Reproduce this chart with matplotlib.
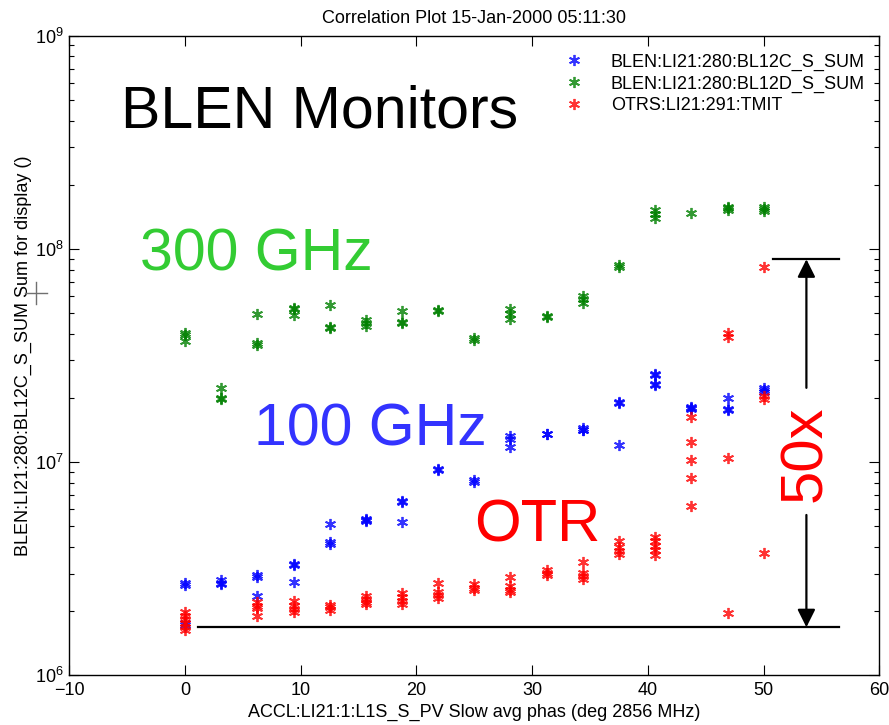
import matplotlib
matplotlib.use("Agg")
import matplotlib.pyplot as plt
from matplotlib.lines import Line2D

# ---------------- data ----------------
blen_c_x = [0, 0, 0, 0,
            3.1, 3.1, 3.1,
            6.25, 6.25, 6.25,
            9.4, 9.4, 9.4,
            12.5, 12.5, 12.5,
            15.6, 15.6, 15.6,
            18.75, 18.75, 18.75,
            21.9, 21.9,
            25, 25,
            28.1, 28.1, 28.1,
            31.25, 31.25,
            34.4, 34.4, 34.4,
            37.5, 37.5, 37.5,
            40.6, 40.6, 40.6, 40.6,
            43.75, 43.75, 43.75,
            46.9, 46.9, 46.9,
            50, 50, 50]
blen_c_y = [2.70e6, 2.65e6, 1.75e6, 1.72e6,
            2.80e6, 2.72e6, 2.68e6,
            2.95e6, 2.90e6, 2.35e6,
            3.33e6, 3.28e6, 2.75e6,
            5.10e6, 4.20e6, 4.15e6,
            5.40e6, 5.30e6, 5.35e6,
            6.60e6, 6.50e6, 5.25e6,
            9.25e6, 9.20e6,
            8.20e6, 8.10e6,
            1.33e7, 1.29e7, 1.18e7,
            1.36e7, 1.35e7,
            1.44e7, 1.42e7, 1.41e7,
            1.92e7, 1.90e7, 1.20e7,
            2.60e7, 2.55e7, 2.33e7, 2.30e7,
            1.82e7, 1.80e7, 1.78e7,
            1.99e7, 1.78e7, 1.76e7,
            2.22e7, 2.17e7, 2.14e7]

blen_d_x = [0, 0, 0,
            3.1, 3.1, 3.1,
            6.25, 6.25, 6.25,
            9.4, 9.4, 9.4,
            12.5, 12.5, 12.5,
            15.6, 15.6, 15.6,
            18.75, 18.75, 18.75,
            21.9, 21.9,
            25, 25,
            28.1, 28.1, 28.1,
            31.25, 31.25,
            34.4, 34.4, 34.4,
            37.5, 37.5,
            40.6, 40.6, 40.6,
            43.75,
            46.9, 46.9, 46.9,
            50, 50, 50]
blen_d_y = [4.05e7, 3.95e7, 3.70e7,
            2.22e7, 2.00e7, 1.97e7,
            4.95e7, 3.60e7, 3.55e7,
            5.30e7, 5.20e7, 4.90e7,
            5.45e7, 4.30e7, 4.25e7,
            4.65e7, 4.50e7, 4.35e7,
            5.12e7, 4.55e7, 4.50e7,
            5.15e7, 5.10e7,
            3.80e7, 3.75e7,
            5.20e7, 4.95e7, 4.68e7,
            4.85e7, 4.78e7,
            6.00e7, 5.85e7, 5.60e7,
            8.40e7, 8.25e7,
            1.52e8, 1.45e8, 1.40e8,
            1.47e8,
            1.58e8, 1.55e8, 1.52e8,
            1.57e8, 1.54e8, 1.50e8]

otr_x = [0, 0, 0, 0, 0, 0,
         6.25, 6.25, 6.25, 6.25,
         9.4, 9.4, 9.4, 9.4,
         12.5, 12.5, 12.5,
         15.6, 15.6, 15.6, 15.6,
         18.75, 18.75, 18.75, 18.75,
         21.9, 21.9, 21.9, 21.9,
         25, 25, 25,
         28.1, 28.1, 28.1, 28.1,
         31.25, 31.25, 31.25,
         34.4, 34.4, 34.4, 34.4,
         37.5, 37.5, 37.5, 37.5,
         40.6, 40.6, 40.6, 40.6, 40.6,
         43.75, 43.75, 43.75, 43.75, 43.75,
         46.9, 46.9, 46.9, 46.9,
         50, 50, 50, 50]
otr_y = [1.98e6, 1.90e6, 1.83e6, 1.75e6, 1.68e6, 1.63e6,
         2.20e6, 2.12e6, 2.06e6, 1.90e6,
         2.22e6, 2.12e6, 2.05e6, 1.99e6,
         2.14e6, 2.08e6, 2.03e6,
         2.36e6, 2.28e6, 2.20e6, 2.17e6,
         2.42e6, 2.32e6, 2.22e6, 2.15e6,
         2.72e6, 2.45e6, 2.38e6, 2.30e6,
         2.68e6, 2.58e6, 2.52e6,
         2.88e6, 2.62e6, 2.52e6, 2.45e6,
         3.12e6, 3.02e6, 2.95e6,
         3.40e6, 3.02e6, 2.92e6, 2.82e6,
         4.25e6, 3.98e6, 3.82e6, 3.70e6,
         4.45e6, 4.25e6, 4.05e6, 3.85e6, 3.65e6,
         1.62e7, 1.24e7, 1.02e7, 8.40e6, 6.25e6,
         4.05e7, 3.85e7, 1.04e7, 1.95e6,
         8.25e7, 2.05e7, 1.98e7, 3.75e6]

series_labels = ["BLEN:LI21:280:BL12C_S_SUM",
                 "BLEN:LI21:280:BL12D_S_SUM",
                 "OTRS:LI21:291:TMIT"]
series_colors = ["#0000ff", "#008000", "#ff0000"]

title_text = "Correlation Plot 15-Jan-2000 05:11:30"
xlabel_text = "ACCL:LI21:1:L1S_S_PV Slow avg phas (deg 2856 MHz)"
ylabel_text = "BLEN:LI21:280:BL12C_S_SUM Sum for display ()"

# ---------------- style ----------------
plt.rcParams["font.family"] = ["Liberation Sans", "DejaVu Sans"]
plt.rcParams["mathtext.fontset"] = "custom"
plt.rcParams["mathtext.rm"] = "Liberation Sans"
plt.rcParams["axes.unicode_minus"] = True

FS = 13

fig = plt.figure(figsize=(8.89, 7.25), dpi=100)
W, H = 889, 725
ax = fig.add_axes([69.3 / W, 1 - 675.3 / H, (879.3 - 69.3) / W, (675.3 - 35.7) / H])

star = (6, 2, 0)
for xs, ys, lab, col in zip([blen_c_x, blen_d_x, otr_x],
                            [blen_c_y, blen_d_y, otr_y],
                            series_labels, series_colors):
    ax.plot(xs, ys, linestyle="none", marker=star, markersize=8,
            markeredgewidth=1.3, color=col, alpha=0.8, label=lab)

ax.set_yscale("log")
ax.set_xlim(-10, 60)
ax.set_ylim(1e6, 1e9)
ax.set_xticks([-10, 0, 10, 20, 30, 40, 50, 60])

ax.tick_params(which="both", direction="in", top=True, right=True,
               labelsize=FS, width=0.8)
ax.tick_params(which="major", length=7)
ax.tick_params(which="minor", length=3.5)
ax.tick_params(axis="x", pad=5)
ax.tick_params(axis="y", pad=4)
for s in ax.spines.values():
    s.set_linewidth(1.0)

ax.set_title(title_text, fontsize=FS, pad=9)
ax.set_xlabel(xlabel_text, fontsize=FS, labelpad=3)
ax.set_ylabel(ylabel_text, fontsize=FS, labelpad=2)

leg = ax.legend(loc="upper left", frameon=False, fontsize=FS,
                bbox_to_anchor=(552 / W, 1 - 41 / H), bbox_transform=fig.transFigure,
                handlelength=1.0, handletextpad=1.55, labelspacing=0.25,
                borderpad=0.2)

# ---------------- annotations ----------------
big = "Liberation Sans"
ax.text(-5.5, 3.73e8, "BLEN Monitors", fontsize=42.5, family=big, color="black",
        ha="left", va="baseline")
ax.text(-3.9, 7.96e7, "300 GHz", fontsize=42.5, family=big, color="#33cc33",
        ha="left", va="baseline")
ax.text(6.0, 1.20e7, "100 GHz", fontsize=42.5, family=big, color="#3333ff",
        ha="left", va="baseline")
ax.text(25.0, 4.22e6, "OTR", fontsize=43, family=big, color="#ff0000",
        ha="left", va="baseline")
ax.text(53.6, 1.10e7, "50x", fontsize=43, family=big, color="#ff0000",
        ha="center", va="center", rotation=90)

# reference lines and arrow
ax.plot([1.15, 56.5], [1.68e6, 1.68e6], color="black", lw=1.6)
ax.plot([50.85, 56.5], [8.94e7, 8.94e7], color="black", lw=1.6)
ax.annotate("", xy=(53.7, 8.94e7), xytext=(53.7, 2.23e7),
            arrowprops=dict(arrowstyle="-|>", color="black", lw=1.6,
                            mutation_scale=27, shrinkA=0, shrinkB=0))
ax.annotate("", xy=(53.7, 1.68e6), xytext=(53.7, 5.65e6),
            arrowprops=dict(arrowstyle="-|>", color="black", lw=1.6,
                            mutation_scale=27, shrinkA=0, shrinkB=0))

# cursor cross left of the axis
cx, cy, r = 36 / W, 1 - 293 / H, 11
fig.add_artist(Line2D([cx - r / W, cx + r / W], [cy, cy], color="#707070", lw=1.0))
fig.add_artist(Line2D([cx, cx], [cy - r / H, cy + r / H], color="#707070", lw=1.0))

fig.savefig("out.png", dpi=100)
